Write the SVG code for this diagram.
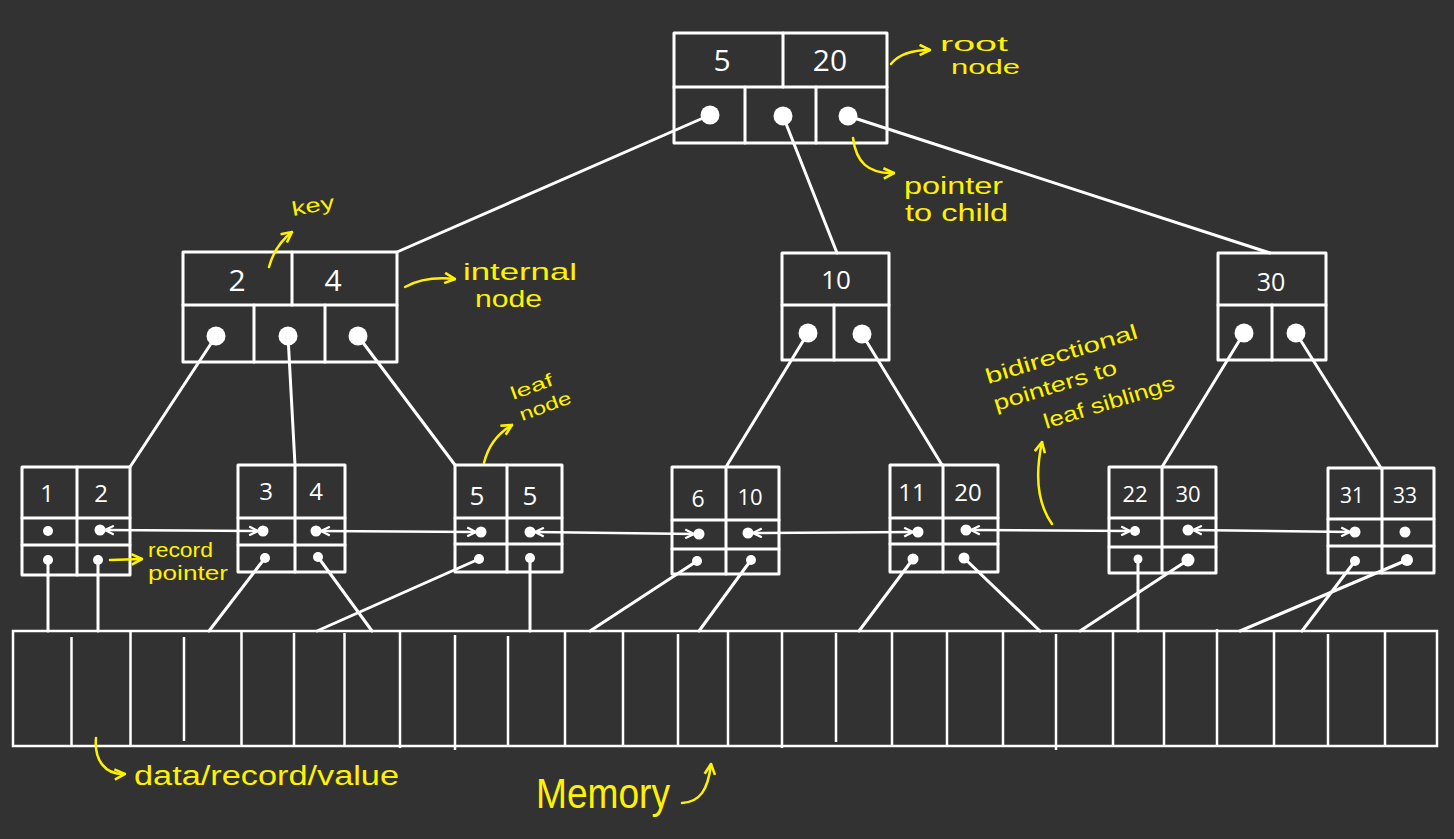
<svg xmlns="http://www.w3.org/2000/svg" width="1454" height="839" viewBox="0 0 1454 839">
<defs>
<style>
.bx{fill:none;stroke:#fff;stroke-width:3;stroke-linejoin:round}
.ln{stroke:#fff;stroke-width:3;fill:none;stroke-linecap:round}
.mem{stroke:#fff;stroke-width:2.5;fill:none}
.dot{fill:#fff}
.k{font-family:"Open Sans","Liberation Sans",sans-serif;fill:#fff;text-anchor:middle}
.y{font-family:"Liberation Sans","Open Sans",sans-serif;fill:#fff200}
.ya{stroke:#fff200;stroke-width:2.5;fill:none;stroke-linecap:round}
.sib{stroke:#fff;stroke-width:2.5;fill:none;marker-start:url(#chev);marker-end:url(#chev)}
</style>
<marker id="chev" viewBox="0 0 10 10" refX="9" refY="5" markerWidth="11" markerHeight="11" markerUnits="userSpaceOnUse" orient="auto-start-reverse">
<path d="M1,1 L9,5 L1,9" fill="none" stroke="#fff" stroke-width="2"/>
</marker>
<marker id="yarr" viewBox="0 0 10 10" refX="9" refY="5" markerWidth="13" markerHeight="13" markerUnits="userSpaceOnUse" orient="auto">
<path d="M1,1 L9,5 L1,9" fill="none" stroke="#fff200" stroke-width="2"/>
</marker>
</defs>
<rect width="1454" height="839" fill="#323232"/>

<!-- connectors -->
<g id="connectors">
<!-- root to internals -->
<line class="ln" x1="710" y1="115" x2="397" y2="252"/>
<line class="ln" x1="783" y1="116" x2="837" y2="253"/>
<line class="ln" x1="848" y1="116" x2="1270" y2="253"/>
<!-- internal to leaves -->
<line class="ln" x1="216" y1="336" x2="130" y2="467"/>
<line class="ln" x1="288" y1="336" x2="295" y2="465"/>
<line class="ln" x1="358" y1="336" x2="455" y2="465"/>
<line class="ln" x1="808" y1="333" x2="726" y2="467"/>
<line class="ln" x1="862" y1="334" x2="942" y2="465"/>
<line class="ln" x1="1244" y1="333" x2="1162" y2="467"/>
<line class="ln" x1="1296" y1="333" x2="1381" y2="468"/>
<!-- sibling pointers -->
<line class="sib" x1="105" y1="530" x2="258" y2="531"/>
<line class="sib" x1="321" y1="531" x2="476" y2="532"/>
<line class="sib" x1="535" y1="532" x2="694" y2="534"/>
<line class="sib" x1="753" y1="533" x2="913" y2="532"/>
<line class="sib" x1="971" y1="530" x2="1130" y2="531"/>
<line class="sib" x1="1193" y1="530" x2="1350" y2="532"/>
<!-- record pointers to memory -->
<line class="ln" x1="48" y1="560" x2="48" y2="631"/>
<line class="ln" x1="98" y1="560" x2="98" y2="631"/>
<line class="ln" x1="265" y1="558" x2="209" y2="631"/>
<line class="ln" x1="318" y1="557" x2="372" y2="631"/>
<line class="ln" x1="479" y1="559" x2="317" y2="631"/>
<line class="ln" x1="530" y1="558" x2="530" y2="631"/>
<line class="ln" x1="697" y1="561" x2="590" y2="631"/>
<line class="ln" x1="751" y1="560" x2="699" y2="631"/>
<line class="ln" x1="913" y1="559" x2="859" y2="631"/>
<line class="ln" x1="964" y1="558" x2="1040" y2="631"/>
<line class="ln" x1="1138" y1="559" x2="1138" y2="631"/>
<line class="ln" x1="1188" y1="560" x2="1080" y2="631"/>
<line class="ln" x1="1355" y1="561" x2="1302" y2="631"/>
<line class="ln" x1="1407" y1="560" x2="1240" y2="631"/>
</g>

<!-- root -->
<g id="root">
<rect class="bx" x="674" y="33" width="213" height="110"/>
<line class="ln" x1="674" y1="87" x2="887" y2="87"/>
<line class="ln" x1="783" y1="33" x2="783" y2="87"/>
<line class="ln" x1="745" y1="87" x2="745" y2="143"/>
<line class="ln" x1="816" y1="87" x2="816" y2="143"/>
<circle class="dot" cx="710" cy="115" r="9.5"/>
<circle class="dot" cx="783" cy="116" r="9.5"/>
<circle class="dot" cx="848" cy="116" r="9.5"/>
<text class="k" x="722" y="71" font-size="30">5</text>
<text class="k" x="830" y="71" font-size="30">20</text>
</g>

<!-- internal 2|4 -->
<g id="internal-2-4">
<rect class="bx" x="183" y="252" width="214" height="110"/>
<line class="ln" x1="183" y1="305" x2="397" y2="305"/>
<line class="ln" x1="292" y1="252" x2="292" y2="305"/>
<line class="ln" x1="254" y1="305" x2="254" y2="362"/>
<line class="ln" x1="325" y1="305" x2="325" y2="362"/>
<circle class="dot" cx="216" cy="336" r="9.5"/>
<circle class="dot" cx="288" cy="336" r="9.5"/>
<circle class="dot" cx="358" cy="336" r="9.5"/>
<text class="k" x="237" y="291" font-size="30">2</text>
<text class="k" x="333" y="291" font-size="30">4</text>
</g>

<!-- internal 10 -->
<g id="internal-10">
<rect class="bx" x="782" y="253" width="107" height="107"/>
<line class="ln" x1="782" y1="305" x2="889" y2="305"/>
<line class="ln" x1="834" y1="305" x2="834" y2="360"/>
<circle class="dot" cx="808" cy="333" r="9.5"/>
<circle class="dot" cx="862" cy="334" r="9.5"/>
<text class="k" x="836" y="289" font-size="26">10</text>
</g>

<!-- internal 30 -->
<g id="internal-30">
<rect class="bx" x="1218" y="253" width="108" height="107"/>
<line class="ln" x1="1218" y1="305" x2="1326" y2="305"/>
<line class="ln" x1="1272" y1="305" x2="1272" y2="360"/>
<circle class="dot" cx="1244" cy="333" r="9.5"/>
<circle class="dot" cx="1296" cy="333" r="9.5"/>
<text class="k" x="1271" y="291" font-size="25">30</text>
</g>

<!-- leaves -->
<g id="leaf-1-2">
<rect class="bx" x="22" y="467" width="108" height="108"/>
<line class="ln" x1="22" y1="518" x2="130" y2="518"/>
<line class="ln" x1="22" y1="545" x2="130" y2="545"/>
<line class="ln" x1="77" y1="467" x2="77" y2="575"/>
<circle class="dot" cx="48" cy="531" r="5"/>
<circle class="dot" cx="100" cy="530" r="5.5"/>
<circle class="dot" cx="48" cy="560" r="5"/>
<circle class="dot" cx="98" cy="560" r="5"/>
<text class="k" x="47" y="502" font-size="24">1</text>
<text class="k" x="101" y="502" font-size="24">2</text>
</g>
<g id="leaf-3-4">
<rect class="bx" x="238" y="465" width="107" height="107"/>
<line class="ln" x1="238" y1="518" x2="345" y2="518"/>
<line class="ln" x1="238" y1="545" x2="345" y2="545"/>
<line class="ln" x1="295" y1="465" x2="295" y2="572"/>
<circle class="dot" cx="263" cy="531" r="5.5"/>
<circle class="dot" cx="316" cy="531" r="5.5"/>
<circle class="dot" cx="265" cy="558" r="5"/>
<circle class="dot" cx="318" cy="557" r="5"/>
<text class="k" x="266" y="500" font-size="24">3</text>
<text class="k" x="316" y="500" font-size="24">4</text>
</g>
<g id="leaf-5-5">
<rect class="bx" x="455" y="465" width="107" height="107"/>
<line class="ln" x1="455" y1="518" x2="562" y2="518"/>
<line class="ln" x1="455" y1="544" x2="562" y2="544"/>
<line class="ln" x1="507" y1="465" x2="507" y2="572"/>
<circle class="dot" cx="481" cy="532" r="5.5"/>
<circle class="dot" cx="530" cy="532" r="5.5"/>
<circle class="dot" cx="479" cy="559" r="5"/>
<circle class="dot" cx="530" cy="558" r="5"/>
<text class="k" x="477" y="505" font-size="26">5</text>
<text class="k" x="530" y="505" font-size="26">5</text>
</g>
<g id="leaf-6-10">
<rect class="bx" x="672" y="467" width="107" height="107"/>
<line class="ln" x1="672" y1="520" x2="779" y2="520"/>
<line class="ln" x1="672" y1="549" x2="779" y2="549"/>
<line class="ln" x1="726" y1="467" x2="726" y2="574"/>
<circle class="dot" cx="699" cy="534" r="5.5"/>
<circle class="dot" cx="748" cy="533" r="5.5"/>
<circle class="dot" cx="697" cy="561" r="5"/>
<circle class="dot" cx="751" cy="560" r="5"/>
<text class="k" x="698" y="507" font-size="23">6</text>
<text class="k" x="750" y="505" font-size="22">10</text>
</g>
<g id="leaf-11-20">
<rect class="bx" x="890" y="465" width="108" height="107"/>
<line class="ln" x1="890" y1="518" x2="998" y2="518"/>
<line class="ln" x1="890" y1="544" x2="998" y2="544"/>
<line class="ln" x1="943" y1="465" x2="943" y2="572"/>
<circle class="dot" cx="918" cy="532" r="5.5"/>
<circle class="dot" cx="966" cy="530" r="5.5"/>
<circle class="dot" cx="913" cy="559" r="5.5"/>
<circle class="dot" cx="964" cy="558" r="5.5"/>
<text class="k" x="912" y="501" font-size="24">11</text>
<text class="k" x="968" y="501" font-size="24">20</text>
</g>
<g id="leaf-22-30">
<rect class="bx" x="1109" y="467" width="107" height="106"/>
<line class="ln" x1="1109" y1="518" x2="1216" y2="518"/>
<line class="ln" x1="1109" y1="547" x2="1216" y2="547"/>
<line class="ln" x1="1162" y1="467" x2="1162" y2="573"/>
<circle class="dot" cx="1135" cy="531" r="5"/>
<circle class="dot" cx="1188" cy="530" r="5.5"/>
<circle class="dot" cx="1138" cy="559" r="4.5"/>
<circle class="dot" cx="1188" cy="560" r="6.5"/>
<text class="k" x="1135" y="502" font-size="22">22</text>
<text class="k" x="1188" y="502" font-size="22">30</text>
</g>
<g id="leaf-31-33">
<rect class="bx" x="1328" y="468" width="106" height="105"/>
<line class="ln" x1="1328" y1="519" x2="1434" y2="519"/>
<line class="ln" x1="1328" y1="546" x2="1434" y2="546"/>
<line class="ln" x1="1382" y1="468" x2="1382" y2="573"/>
<circle class="dot" cx="1355" cy="532" r="5.5"/>
<circle class="dot" cx="1405" cy="532" r="5.5"/>
<circle class="dot" cx="1355" cy="561" r="5"/>
<circle class="dot" cx="1407" cy="560" r="6"/>
<text class="k" x="1352" y="503" font-size="21">31</text>
<text class="k" x="1405" y="503" font-size="21">33</text>
</g>

<!-- memory -->
<g id="memory">
<rect class="mem" x="13" y="631" width="1424" height="115"/>
<path class="mem" d="M71.5,637V746 M130.5,631V746 M184,637V741 M241.5,631V746 M294,633V746 M344.5,633V746 M400,631V748 M455,635V750 M508,636V746 M565,631V746 M623,631V746 M678,634V746 M728,631V746 M782,631V748 M836,633V742 M892,631V746 M947,631V745 M1003,631V746 M1056,634V750 M1113,632V746 M1164,631V746 M1217,629V746 M1274,631V746 M1328,634V746 M1385,631V746"/>
</g>

<!-- annotations -->
<g id="annotations">
<path class="ya" d="M891,64 Q902,50 930,50" marker-end="url(#yarr)"/>
<text class="y" x="940" y="51" font-size="20" textLength="68" lengthAdjust="spacingAndGlyphs">root</text>
<text class="y" x="951" y="74" font-size="20" textLength="69" lengthAdjust="spacingAndGlyphs">node</text>

<path class="ya" d="M853,138 C856,162 868,174 894,173" marker-end="url(#yarr)"/>
<text class="y" x="904" y="194" font-size="23" textLength="99" lengthAdjust="spacingAndGlyphs">pointer</text>
<text class="y" x="905" y="221" font-size="23" textLength="103" lengthAdjust="spacingAndGlyphs">to child</text>

<path class="ya" d="M269,267 Q275,245 292,232" marker-end="url(#yarr)"/>
<text class="y" x="293" y="216" font-size="20" textLength="43" lengthAdjust="spacingAndGlyphs" transform="rotate(-10 293 216)">key</text>

<path class="ya" d="M405,287 Q425,276 455,279" marker-end="url(#yarr)"/>
<text class="y" x="463" y="280" font-size="24" textLength="114" lengthAdjust="spacingAndGlyphs">internal</text>
<text class="y" x="475" y="307" font-size="24" textLength="67" lengthAdjust="spacingAndGlyphs">node</text>

<path class="ya" d="M484,463 Q490,438 512,425" marker-end="url(#yarr)"/>
<text class="y" x="513" y="400" font-size="18" textLength="44" lengthAdjust="spacingAndGlyphs" transform="rotate(-20 513 400)">leaf</text>
<text class="y" x="522" y="421" font-size="18" textLength="54" lengthAdjust="spacingAndGlyphs" transform="rotate(-20 522 421)">node</text>

<path class="ya" d="M1052,524 C1035,500 1036,470 1042,442" marker-end="url(#yarr)"/>
<text class="y" x="988" y="384" font-size="21" textLength="158" lengthAdjust="spacingAndGlyphs" transform="rotate(-17 988 384)">bidirectional</text>
<text class="y" x="996" y="411" font-size="21" textLength="128" lengthAdjust="spacingAndGlyphs" transform="rotate(-17 996 411)">pointers to</text>
<text class="y" x="1046" y="429" font-size="21" textLength="136" lengthAdjust="spacingAndGlyphs" transform="rotate(-17 1046 429)">leaf siblings</text>

<path class="ya" d="M110,560 L142,559" marker-end="url(#yarr)"/>
<text class="y" x="148" y="557" font-size="20" textLength="65" lengthAdjust="spacingAndGlyphs">record</text>
<text class="y" x="148" y="580" font-size="20" textLength="80" lengthAdjust="spacingAndGlyphs">pointer</text>

<path class="ya" d="M96,738 C94,760 105,775 125,774" marker-end="url(#yarr)"/>
<text class="y" x="134" y="785" font-size="27" textLength="265" lengthAdjust="spacingAndGlyphs">data/record/value</text>

<text class="y" x="536" y="808" font-size="42" textLength="134" lengthAdjust="spacingAndGlyphs">Memory</text>
<path class="ya" d="M682,803 C700,802 708,790 711,764" marker-end="url(#yarr)"/>
</g>
</svg>
